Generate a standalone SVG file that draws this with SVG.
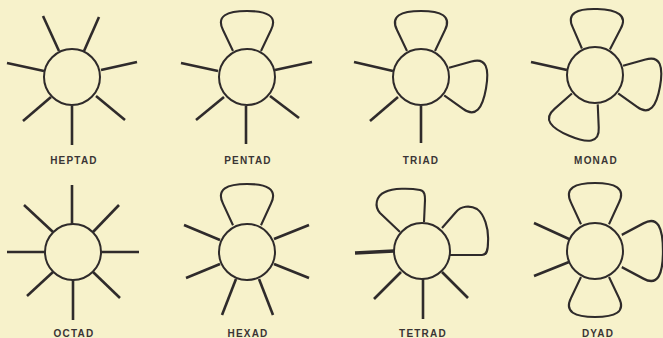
<svg xmlns="http://www.w3.org/2000/svg" width="663" height="338" viewBox="0 0 663 338">
<style>
.bg{fill:#f7f2cb}
.ring{fill:none;stroke:#2f2b2b;stroke-width:2}
.ray{stroke:#2f2b2b;stroke-width:2.6;stroke-linecap:butt;fill:none}
.lobe{fill:none;stroke:#2f2b2b;stroke-width:2.1;stroke-linejoin:round}
.lbl{font-family:"Liberation Sans",Arial,sans-serif;font-size:10px;font-weight:bold;letter-spacing:1.2px;fill:#3a3535;text-anchor:middle}
</style>
<defs>
<path id="loop" d="M-14,-26 L-24,-47 C-31,-61 -20,-66 0,-66 C20,-66 31,-61 24,-47 L14,-26"/>
</defs>
<rect class="bg" x="0" y="0" width="663" height="338"/>

<g id="heptad">
<circle class="ring" cx="72" cy="77" r="28"/>
<g class="ray">
<line x1="43" y1="16" x2="59" y2="51"/>
<line x1="99" y1="17" x2="84" y2="51"/>
<line x1="7" y1="63" x2="44" y2="71"/>
<line x1="137" y1="62" x2="101" y2="70"/>
<line x1="23" y1="121" x2="51" y2="97"/>
<line x1="125" y1="120" x2="96" y2="96"/>
<line x1="72" y1="106" x2="72" y2="145"/>
</g>
<text class="lbl" x="74" y="164">HEPTAD</text>
</g>

<g id="pentad">
<circle class="ring" cx="247" cy="77" r="28"/>
<use href="#loop" class="lobe" transform="translate(247,77)"/>
<g class="ray">
<line x1="181" y1="63" x2="218" y2="71"/>
<line x1="312" y1="62" x2="275" y2="70"/>
<line x1="196" y1="120" x2="224" y2="97"/>
<line x1="299" y1="118" x2="270" y2="96"/>
<line x1="246" y1="106" x2="246" y2="144"/>
</g>
<text class="lbl" x="248" y="164">PENTAD</text>
</g>

<g id="triad">
<circle class="ring" cx="421" cy="77" r="28"/>
<use href="#loop" class="lobe" transform="translate(421,77)"/>
<use href="#loop" class="lobe" transform="translate(421,77) rotate(100)"/>
<g class="ray">
<line x1="354" y1="62" x2="393" y2="71"/>
<line x1="370" y1="121" x2="398" y2="97"/>
<line x1="421" y1="106" x2="421" y2="143"/>
</g>
<text class="lbl" x="421" y="164">TRIAD</text>
</g>

<g id="monad">
<circle class="ring" cx="595" cy="75" r="28"/>
<use href="#loop" class="lobe" transform="translate(595,75) rotate(2)"/>
<use href="#loop" class="lobe" transform="translate(595,75) rotate(100)"/>
<use href="#loop" class="lobe" transform="translate(595,75) rotate(203)"/>
<g class="ray">
<line x1="531" y1="62" x2="567" y2="70"/>
</g>
<text class="lbl" x="596" y="164">MONAD</text>
</g>

<g id="octad">
<circle class="ring" cx="73" cy="252" r="28"/>
<g class="ray">
<line x1="72" y1="185" x2="72" y2="224"/>
<line x1="73" y1="280" x2="73" y2="320"/>
<line x1="7" y1="252" x2="45" y2="252"/>
<line x1="101" y1="252" x2="139" y2="252"/>
<line x1="24" y1="205" x2="53" y2="232"/>
<line x1="119" y1="205" x2="93" y2="232"/>
<line x1="27" y1="296" x2="53" y2="272"/>
<line x1="120" y1="298" x2="93" y2="272"/>
</g>
<text class="lbl" x="74" y="337">OCTAD</text>
</g>

<g id="hexad">
<circle class="ring" cx="247" cy="252" r="28"/>
<use href="#loop" class="lobe" transform="translate(247,252) scale(1,1.03)"/>
<g class="ray">
<line x1="184" y1="225" x2="220" y2="240"/>
<line x1="309" y1="225" x2="274" y2="239"/>
<line x1="186" y1="278" x2="220" y2="264"/>
<line x1="309" y1="278" x2="274" y2="264"/>
<line x1="222" y1="315" x2="236" y2="279"/>
<line x1="273" y1="315" x2="259" y2="279"/>
</g>
<text class="lbl" x="248" y="337">HEXAD</text>
</g>

<g id="tetrad">
<circle class="ring" cx="422" cy="251" r="28"/>
<path class="lobe" d="M400,232 L380,213 C374,206 376,196 385,192 C393,188 410,188 420,190 C425,191 425,196 425,200 L424,222"/>
<path class="lobe" d="M442,228 L456,212 C461,206 470,205 477,209 C484,214 489,228 488,242 C488,250 487,255 482,255 L450,255"/>
<g class="ray">
<line x1="355" y1="253" x2="394" y2="251" style="stroke-width:3.4"/>
<line x1="374" y1="299" x2="401" y2="272"/>
<line x1="423" y1="279" x2="423" y2="319"/>
<line x1="468" y1="298" x2="442" y2="272"/>
</g>
<text class="lbl" x="423" y="337">TETRAD</text>
</g>

<g id="dyad">
<circle class="ring" cx="595" cy="251" r="28"/>
<use href="#loop" class="lobe" transform="translate(595,251) scale(1,1.03)"/>
<use href="#loop" class="lobe" transform="translate(595,251) rotate(90) scale(1.15,1.03)"/>
<use href="#loop" class="lobe" transform="translate(595,251) rotate(180)"/>
<g class="ray">
<line x1="534" y1="223" x2="569" y2="239"/>
<line x1="534" y1="276" x2="569" y2="262"/>
</g>
<text class="lbl" x="598" y="337">DYAD</text>
</g>
</svg>
